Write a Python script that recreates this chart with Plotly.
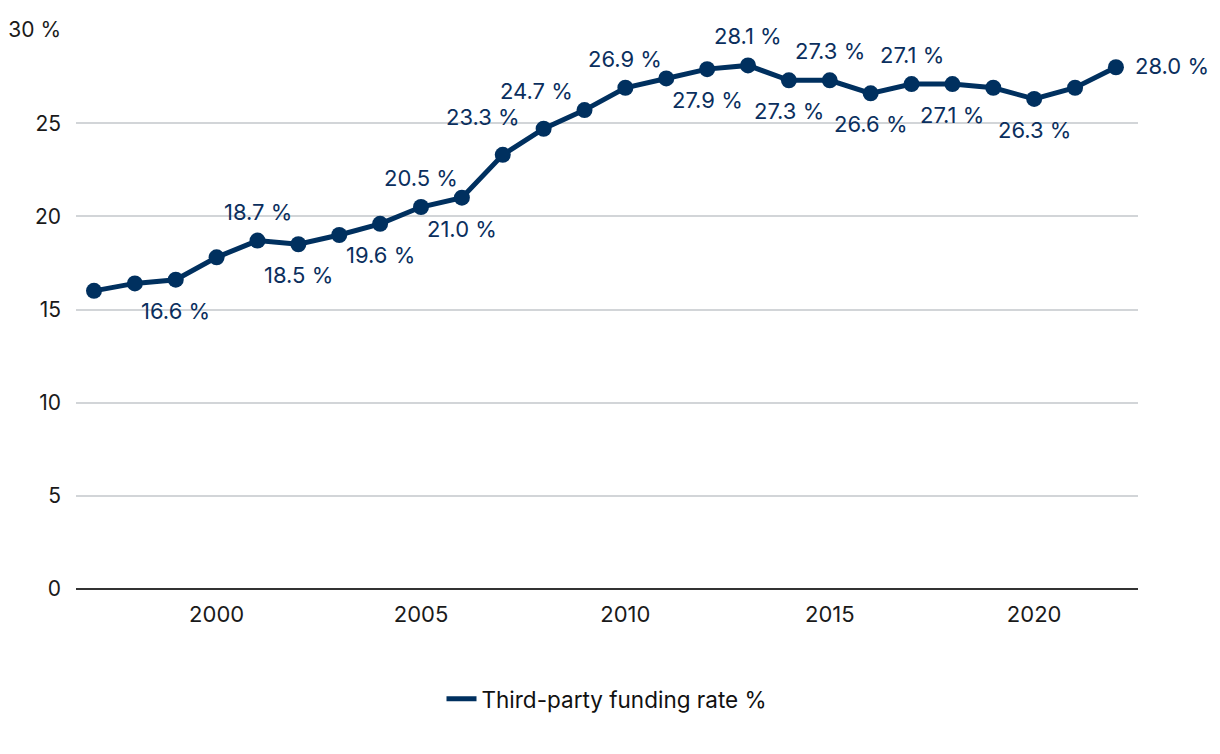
import plotly.graph_objects as go

years = list(range(1997, 2023))
rates = [16.0, 16.4, 16.6, 17.8, 18.7, 18.5, 19.0, 19.6, 20.5, 21.0, 23.3, 24.7, 25.7,
         26.9, 27.4, 27.9, 28.1, 27.3, 27.3, 26.6, 27.1, 27.1, 26.9, 26.3, 26.9, 28.0]

# labelled points: year -> placement
label_years = [1999, 2001, 2002, 2004, 2005, 2006, 2007, 2008, 2010, 2012, 2013,
               2014, 2015, 2016, 2017, 2018, 2020, 2022]
label_pos = ["below", "above", "below", "below", "above", "below", "aboveleft", "aboveleft",
             "above", "below", "above", "below", "above", "below", "above", "below",
             "below", "right"]

y_tickvals = [0, 5, 10, 15, 20, 25, 30]
y_ticktext = ["0", "5", "10", "15", "20", "25", "30 %"]
x_tickvals = [2000, 2005, 2010, 2015, 2020]

navy = "#00305f"
font = "Inter, Lato, sans-serif"

fig = go.Figure()
fig.add_trace(go.Scatter(
    x=years, y=rates, mode="lines+markers",
    name="Third-party funding rate %", showlegend=False,
    line=dict(color=navy, width=5),
    marker=dict(color=navy, size=16),
))
fig.add_trace(go.Scatter(
    x=[None], y=[None], mode="lines",
    name="Third-party funding rate %", showlegend=True,
    line=dict(color=navy, width=5),
))

shifts = {
    "above": (0, 29),
    "below": (0, -31),
    "aboveleft": (-20, 38),
    "right": (56, 1),
}
for yr, pos in zip(label_years, label_pos):
    v = rates[years.index(yr)]
    if pos == "aboveleft" and yr == 2008:
        xs, ys = (-7, 38)
    else:
        xs, ys = shifts[pos]
    fig.add_annotation(
        x=yr, y=v, text=f"{v:.1f} %", showarrow=False,
        xshift=xs, yshift=ys,
        font=dict(family=font, size=22, color="#0b2f5e"),
    )

fig.update_layout(
    width=1220, height=754,
    margin=dict(l=68, r=90, t=22, b=173, autoexpand=False),
    plot_bgcolor="white", paper_bgcolor="white",
    font=dict(family=font, size=21, color="#1a1a1a"),
    showlegend=True,
    legend=dict(orientation="h", x=0.5, xanchor="center", xref="paper",
                y=-0.197, yanchor="middle", itemwidth=30,
                font=dict(family=font, size=22.5, color="#111111")),
    xaxis=dict(range=[1996.56, 2022.54], tickvals=x_tickvals, showgrid=False,
               zeroline=False, showline=False, ticks="", ticklabelstandoff=10,
               automargin=False, tickfont=dict(size=22, color="#1a1a1a")),
    yaxis=dict(range=[0, 30], tickvals=y_tickvals, ticktext=y_ticktext,
               showgrid=True, gridcolor="#d2d5d8", gridwidth=1.5,
               zeroline=True, zerolinecolor="#333333", zerolinewidth=2,
               showline=False, ticks="", ticklabelstandoff=14, automargin=False,
               tickfont=dict(size=21, color="#1a1a1a")),
)

fig.write_html("out.html")
